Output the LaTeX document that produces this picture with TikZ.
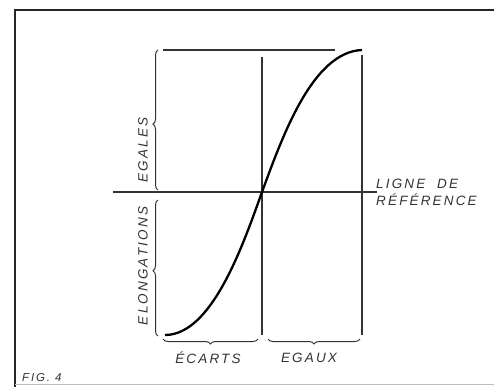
\documentclass[tikz,border=0pt]{standalone}
\usepackage{fontspec}
\newfontfamily\lettering[LetterSpace=16]{Liberation Sans}
\usetikzlibrary{decorations.pathreplacing, calc}
\tikzset{
  frameline/.style = {line width=1.6pt, black!85},
  axis/.style      = {line width=1.2pt, black!80},
  curveline/.style = {line width=2.3pt, black},
  bracket/.style   = {line width=1pt, black!80,
                      decorate, decoration={brace, amplitude=5pt, aspect=#1}},
  bracket/.default = 0.5,
  lbl/.style       = {font=\lettering\itshape\fontsize{13.5}{17}\selectfont,
                      text=black!80, inner sep=0pt},
}
\begin{document}
\begin{tikzpicture}[x=1pt, y=-1pt]
  \useasboundingbox (0,0) rectangle (494,387);

  % border of the figure
  \draw[frameline] (15,387) -- (15,10) -- (494,10);
  \draw[line width=0.8pt, black!25] (15,384) -- (494,384);

  % key points
  \coordinate (lo) at (165,335);
  \coordinate (mid) at (262,192);
  \coordinate (hi) at (362,50);

  % reference line and verticals
  \draw[axis] (113,192) -- (377,192);
  \draw[axis] (262,57) -- (262,335);
  \draw[axis] (362,55) -- (362,335);
  \draw[axis] (163,50) -- (335,50);

  % braces on the left
  \draw[bracket=0.47] (158,190) -- (158,50);
  \draw[bracket=0.48] (158,336) -- (158,200);

  % braces along the bottom
  \draw[bracket=0.5, decoration={mirror}] (163,339) -- (258,339);
  \draw[bracket=0.5, decoration={mirror}] (268,339) -- (360,339);

  % the curve
  \draw[curveline] (lo) .. controls (212,335) and (243,245) .. (mid)
                        .. controls (282,138) and (312,52) .. (hi);

  % labels
  \node[lbl, rotate=90] (elong) at (143,266) {ELONGATIONS};
  \node[lbl, rotate=90] (egales) at (143,150) {EGALES};
  \node[lbl, align=left, anchor=west] (ligne) at (376,192) {LIGNE \ DE\\RÉFÉRENCE};
  \node[lbl] (ecarts) at (208,358) {ÉCARTS};
  \node[lbl] (egaux) at (309,358) {EGAUX};
  \node[lbl, anchor=west, font=\lettering\itshape\fontsize{11.5}{13}\selectfont] (fig) at (22,378) {FIG. 4};
\end{tikzpicture}
\end{document}
